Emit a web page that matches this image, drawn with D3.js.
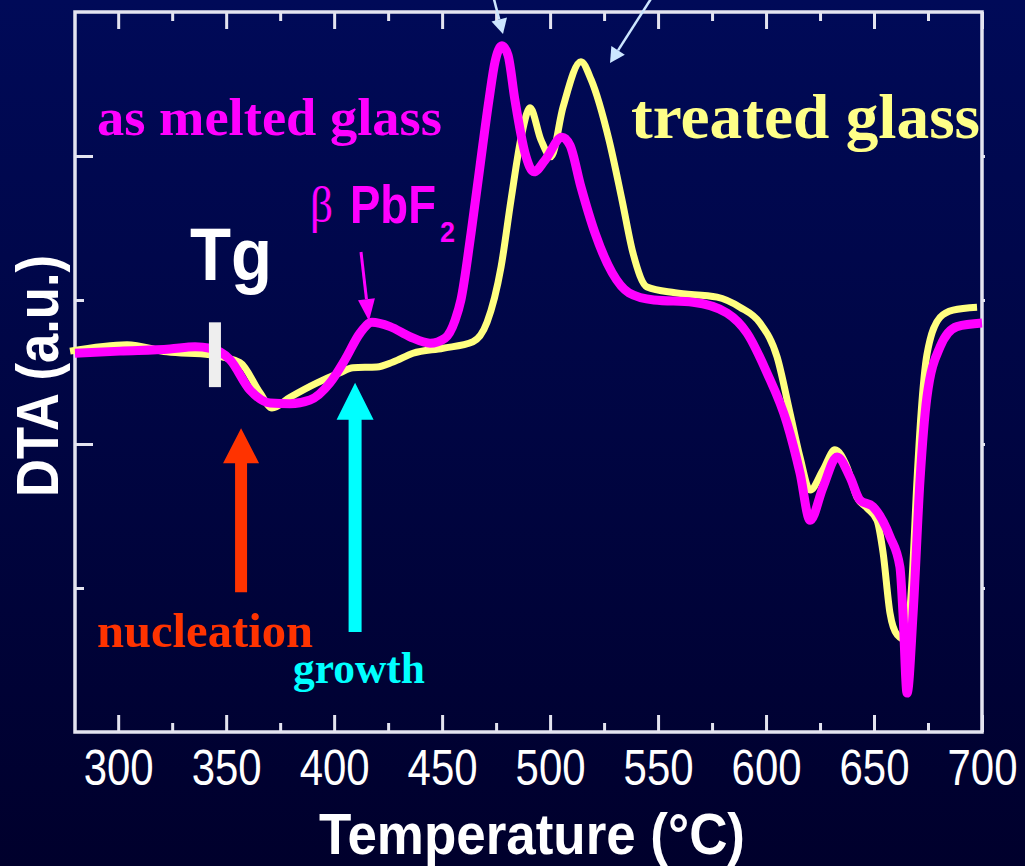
<!DOCTYPE html>
<html>
<head>
<meta charset="utf-8">
<script src="https://cdn.jsdelivr.net/npm/d3@7.9.0/dist/d3.min.js"></script>
<style>
  body { margin: 0; background: #000033; }
  svg { display: block; }
</style>
</head>
<body>
<svg id="chart" width="1025" height="866"></svg>
<script>
// ---- data ----
// as melted glass (magenta)
const meltedT = [280, 300.8, 324.0, 335.6, 342.5, 351.8, 361.0, 370.3, 379.6, 388.8, 398.1, 405.0, 412.0, 417.5,
  425.9, 435.1, 444.4, 451.3, 456.0, 458.7, 463.4, 467.5, 471.7, 474.5, 477.7, 480.5, 483.7, 488.4, 492.5,
  497.6, 505.5, 509.2, 514.3, 520.8, 528.7, 536.5, 548.1, 566.2, 581.9, 591.2, 600.4, 609.7, 615.7, 620.4,
  626.4, 632.9, 638.9, 643.5, 649.5, 657.4, 662.0, 663.4, 665.3, 668.1, 671.3, 674.5, 680.6, 688.4, 700];
const meltedDTA = [5.26, 5.29, 5.32, 5.35, 5.33, 5.17, 4.75, 4.57, 4.56, 4.61, 4.85, 5.17, 5.54, 5.69,
  5.63, 5.49, 5.40, 5.47, 5.72, 6.0, 6.93, 7.85, 8.78, 9.31, 9.53, 9.40, 8.78, 8.04, 7.78,
  7.94, 8.26, 8.15, 7.57, 6.93, 6.38, 6.10, 6.0, 5.97, 5.82, 5.54, 4.99, 4.29, 3.60, 2.94,
  3.40, 3.82, 3.54, 3.22, 3.13, 2.71, 2.29, 1.65, 0.54, 1.65, 3.5, 4.65, 5.35, 5.63, 5.68];

// treated glass (yellow)
const treatedT = [277.7, 304.1, 322.6, 342.5, 356.4, 365.7, 371.2, 379.6, 392.1, 402.7, 408.7, 419.8, 427.3,
  436.5, 450.4, 464.3, 470.8, 477.3, 481.9, 487.0, 490.7, 495.8, 500.4, 506.0, 514.3, 519.0, 527.3, 533.3,
  538.4, 544.9, 557.8, 577.3, 587.9, 597.2, 605.1, 611.1, 615.7, 620.4, 626.4, 631.9, 637.5, 642.1, 646.8,
  651.4, 654.2, 657.4, 660.7, 664.8, 667.6, 669.9, 671.8, 674.5, 680.6, 686.6, 697.7];
const treatedDTA = [5.29, 5.38, 5.28, 5.24, 5.13, 4.71, 4.50, 4.65, 4.85, 4.99, 5.06, 5.07, 5.14,
  5.26, 5.33, 5.42, 5.69, 6.46, 7.39, 8.32, 8.67, 8.22, 7.99, 8.68, 9.31, 9.06, 8.22, 7.39,
  6.65, 6.18, 6.10, 6.04, 5.90, 5.68, 5.21, 4.43, 3.82, 3.36, 3.64, 3.92, 3.68, 3.26, 3.11,
  2.94, 2.49, 1.65, 1.35, 1.28, 2.11, 3.5, 4.43, 5.24, 5.76, 5.86, 5.90];

const xMajor = [300, 350, 400, 450, 500, 550, 600, 650, 700];
const xMinor = [325, 375, 425, 475, 525, 575, 625, 675];
const yMajor = [4, 8];
const yMinor = [2, 6];

// annotation marks: [temperature, DTA tail, DTA tip]
const nucleationArrow = [356.9, 1.94, 4.22];
const growthArrow = [409.7, 1.39, 4.85];
const tgMark = [344.8, 4.79, 5.69];

// ---- layout ----
const svg = d3.select('#chart');
const W = 1025, H = 866;
const mLeft = 75, mRight = 982, mTop = 12, mBottom = 732;

const x = d3.scaleLinear().domain([280, 700]).range([mLeft, mRight]);
const y = d3.scaleLinear().domain([0, 10]).range([mBottom, mTop]);

// background gradient
let defs = svg.append('defs');
let grad = defs.append('linearGradient').attr('id', 'bg').attr('x1', 0).attr('y1', 0).attr('x2', 0).attr('y2', 1);
grad.append('stop').attr('offset', '0%').attr('stop-color', '#000a58');
grad.append('stop').attr('offset', '100%').attr('stop-color', '#00002c');
svg.append('rect').attr('width', W).attr('height', H).attr('fill', 'url(#bg)');

const axisColor = '#e4e4f0';

// frame
svg.append('rect')
  .attr('x', mLeft).attr('y', mTop)
  .attr('width', mRight - mLeft).attr('height', mBottom - mTop)
  .attr('fill', 'none').attr('stroke', axisColor).attr('stroke-width', 3.5);

function styleAxis(g) {
  g.select('.domain').remove();
  g.selectAll('.tick line').attr('stroke', axisColor).attr('stroke-width', 3);
}

// bottom axis with labels
svg.append('g').attr('transform', `translate(0,${mBottom})`)
  .call(d3.axisBottom(x).tickValues(xMajor).tickSize(-17).tickPadding(17).tickFormat(d3.format('d')))
  .call(styleAxis)
  .call(g => g.selectAll('.tick text')
    .attr('fill', '#ffffff')
    .attr('font-family', 'Liberation Sans, Arial, sans-serif')
    .attr('font-size', 50)
    .attr('textLength', 70)
    .attr('lengthAdjust', 'spacingAndGlyphs'));
svg.append('g').attr('transform', `translate(0,${mBottom})`)
  .call(d3.axisBottom(x).tickValues(xMinor).tickSize(-9).tickFormat(''))
  .call(styleAxis);

// top axis ticks
svg.append('g').attr('transform', `translate(0,${mTop})`)
  .call(d3.axisTop(x).tickValues(xMajor).tickSize(-17).tickFormat(''))
  .call(styleAxis);
svg.append('g').attr('transform', `translate(0,${mTop})`)
  .call(d3.axisTop(x).tickValues(xMinor).tickSize(-9).tickFormat(''))
  .call(styleAxis);

// left axis ticks (no labels)
svg.append('g').attr('transform', `translate(${mLeft},0)`)
  .call(d3.axisLeft(y).tickValues(yMajor).tickSize(-18).tickFormat(''))
  .call(styleAxis);
svg.append('g').attr('transform', `translate(${mLeft},0)`)
  .call(d3.axisLeft(y).tickValues(yMinor).tickSize(-9).tickFormat(''))
  .call(styleAxis);
// right axis small ticks
svg.append('g').attr('transform', `translate(${mRight},0)`)
  .call(d3.axisRight(y).tickValues([2, 4, 6, 8]).tickSize(3).tickFormat(''))
  .call(styleAxis);

// axis titles
svg.append('text')
  .attr('x', 532).attr('y', 854)
  .attr('text-anchor', 'middle')
  .attr('fill', '#ffffff')
  .attr('font-family', 'Liberation Sans, Arial, sans-serif')
  .attr('font-weight', 'bold').attr('font-size', 57)
  .attr('textLength', 426).attr('lengthAdjust', 'spacingAndGlyphs')
  .text('Temperature (°C)');

svg.append('text')
  .attr('transform', 'translate(58,376) rotate(-90)')
  .attr('text-anchor', 'middle')
  .attr('fill', '#ffffff')
  .attr('font-family', 'Liberation Sans, Arial, sans-serif')
  .attr('font-weight', 'bold').attr('font-size', 60)
  .attr('textLength', 242).attr('lengthAdjust', 'spacingAndGlyphs')
  .text('DTA (a.u.)');

// ---- curves ----
const line = d3.line()
  .x(d => x(d[0]))
  .y(d => y(d[1]))
  .curve(d3.curveMonotoneX);

const treated = d3.zip(treatedT, treatedDTA);
const melted = d3.zip(meltedT, meltedDTA);

svg.append('path').attr('d', line(treated))
  .attr('fill', 'none').attr('stroke', '#ffff80').attr('stroke-width', 7)
  .attr('stroke-linejoin', 'round');
svg.append('path').attr('d', line(melted))
  .attr('fill', 'none').attr('stroke', '#ff00ff').attr('stroke-width', 9)
  .attr('stroke-linejoin', 'round');

// ---- annotations ----
// Tg marker
svg.append('rect')
  .attr('x', x(tgMark[0]) - 6).attr('width', 12)
  .attr('y', y(tgMark[2])).attr('height', y(tgMark[1]) - y(tgMark[2]))
  .attr('fill', '#eeeeee');

// block arrows pointing up
function blockArrow(a, color, shaft, headW, headL) {
  const cx = x(a[0]), y0 = y(a[1]), y1 = y(a[2]);
  const pts = [
    [cx - shaft / 2, y0], [cx - shaft / 2, y1 + headL], [cx - headW / 2, y1 + headL],
    [cx, y1], [cx + headW / 2, y1 + headL], [cx + shaft / 2, y1 + headL], [cx + shaft / 2, y0]
  ];
  svg.append('path').attr('d', 'M' + pts.join('L') + 'Z').attr('fill', color);
}
blockArrow(nucleationArrow, '#ff3300', 12, 36, 35);
blockArrow(growthArrow, '#00ffff', 13, 37, 37);

// thin arrows with a triangle head
function thinArrow(x0, y0, x1, y1, color, w, headL, headW) {
  const dx = x1 - x0, dy = y1 - y0, len = Math.hypot(dx, dy);
  const ux = dx / len, uy = dy / len;
  const bx = x1 - ux * headL, by = y1 - uy * headL;
  svg.append('line').attr('x1', x0).attr('y1', y0).attr('x2', bx).attr('y2', by)
    .attr('stroke', color).attr('stroke-width', w);
  const p = [[x1, y1], [bx - uy * headW / 2, by + ux * headW / 2], [bx + uy * headW / 2, by - ux * headW / 2]];
  svg.append('path').attr('d', 'M' + p.join('L') + 'Z').attr('fill', color);
}
thinArrow(361, 252, 369, 321, '#ff00ff', 3, 22, 17);
thinArrow(489, -20, 503, 34, '#cce6ff', 2.5, 15, 16);
thinArrow(663, -20, 610, 63, '#cce6ff', 2.5, 15, 16);

// labels
const serif = 'Liberation Serif, Times New Roman, serif';
const sans = 'Liberation Sans, Arial, sans-serif';

function label(txt, px, py, color, family, size, weight, len) {
  const t = svg.append('text')
    .attr('x', px).attr('y', py)
    .attr('fill', color)
    .attr('font-family', family)
    .attr('font-size', size)
    .attr('font-weight', weight)
    .text(txt);
  if (len) t.attr('textLength', len).attr('lengthAdjust', 'spacingAndGlyphs');
  return t;
}

label('as melted glass', 97, 135, '#ff00ff', serif, 53, 'bold', 345);
label('treated glass', 631, 138, '#ffff88', serif, 63, 'bold', 349);
label('Tg', 190, 280, '#ffffff', sans, 74, 'bold', 82);
label('β', 310, 222, '#ff00ff', serif, 50, 'normal', 23);
label('PbF', 350, 223, '#ff00ff', sans, 53, 'bold', 86);
label('2', 440, 242, '#ff00ff', sans, 30, 'bold', 15);
label('nucleation', 97, 647, '#ff3300', serif, 48, 'bold', 216);
label('growth', 293, 683, '#00ffff', serif, 44, 'bold', 132);
</script>
</body>
</html>
